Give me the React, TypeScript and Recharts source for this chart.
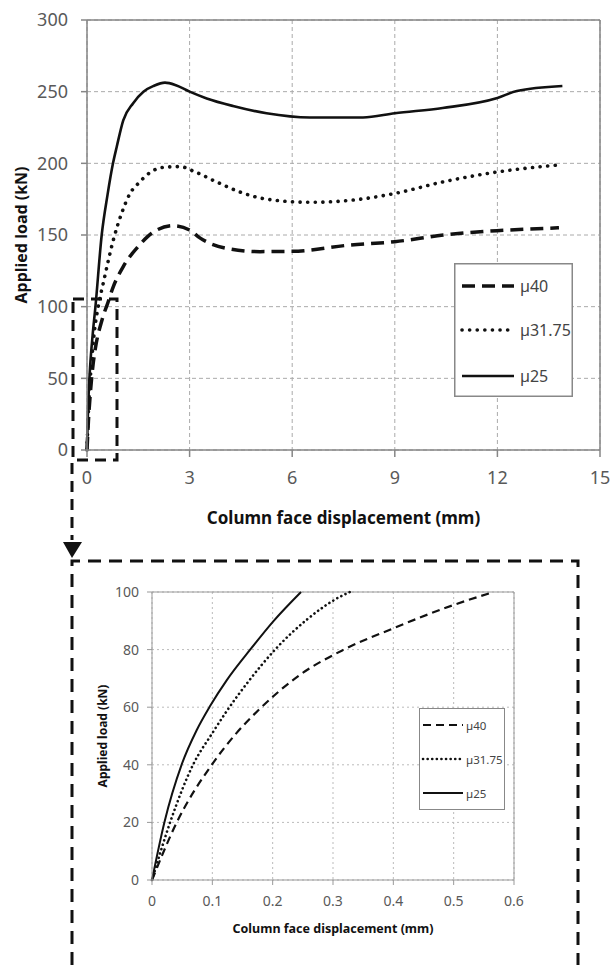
import { CartesianGrid, Legend, Line, LineChart, ReferenceLine, XAxis, YAxis } from 'recharts'

// tick values
const loadTicks = [0, 50, 100, 150, 200, 250, 300]
const dispTicks = [0, 3, 6, 9, 12, 15]
const zoomLoadTicks = [0, 20, 40, 60, 80, 100]
const zoomDispTicks = [0, 0.1, 0.2, 0.3, 0.4, 0.5, 0.6]

// full range
const mu40Disp = [0, 0.041, 0.099, 0.179, 0.245, 0.317, 0.4, 0.5, 0.57, 0.77, 1.06, 1.5, 1.89, 2.52, 3.0, 3.3, 4.08, 5.06, 6.0, 7.69, 9.0, 10.42, 11.98, 13.8]
const mu40Load = [0, 20, 40, 60, 71, 80, 87.4, 95.5, 100, 114, 128, 142, 151.2, 156.5, 153.5, 148, 140.7, 138.4, 138.6, 143, 145.3, 150, 153, 155]

const mu3175Disp = [0, 0.03, 0.068, 0.125, 0.204, 0.256, 0.328, 0.5, 0.77, 1.01, 1.26, 1.5, 1.84, 2.23, 2.72, 3.16, 3.79, 4.47, 5.25, 6.52, 8.0, 9.0, 10.4, 12.0, 13.85]
const mu3175Load = [0, 20, 40, 59, 80, 90, 100, 119, 146.5, 165, 179, 186, 193.5, 197.2, 197.7, 194, 187, 180, 175, 172.8, 175, 179, 187, 194, 199]

const mu25Disp = [0, 0.02, 0.05, 0.096, 0.164, 0.247, 0.43, 0.6, 0.76, 0.87, 1.06, 1.35, 1.65, 1.95, 2.28, 2.6, 3.0, 3.5, 4.27, 5.25, 6.52, 8.07, 9.0, 10.4, 12.0, 12.57, 13.9]
const mu25Load = [0, 20, 40, 60, 80, 100, 150, 178, 200, 211.6, 230, 242, 250, 254, 256.3, 254.5, 250, 245.3, 240, 234.9, 232, 232, 235, 238.6, 245.6, 250.5, 254]

// first 0.6 mm
const mu40ZoomDisp = [0, 0.041, 0.099, 0.14, 0.179, 0.245, 0.317, 0.4, 0.5, 0.566]
const mu40ZoomLoad = [0, 20, 40, 51, 59.5, 71.2, 79.9, 87.4, 95.5, 100]

const mu3175ZoomDisp = [0, 0.03, 0.068, 0.1, 0.125, 0.16, 0.204, 0.256, 0.312, 0.328]
const mu3175ZoomLoad = [0, 20, 40, 51, 59, 69, 80, 90.3, 98.4, 100]

const mu25ZoomDisp = [0, 0.0205, 0.049, 0.074, 0.096, 0.124, 0.164, 0.201, 0.247]
const mu25ZoomLoad = [0, 20, 40, 52, 60.3, 69.4, 80.3, 89.8, 100]

const seriesNames = ['µ40', 'µ31.75', 'µ25']

const zip = (xs: number[], ys: number[]) => xs.map((x, i) => ({ x, y: ys[i] }))

const FONT = '"Noto Sans", sans-serif'
const INK = '#111'

type Style = { dash?: string; width: number; cap: 'round' | 'butt' }

const bigStyles: Style[] = [
  { dash: '13 7', width: 3.5, cap: 'butt' },
  { dash: '0.1 7.5', width: 3.6, cap: 'round' },
  { width: 2.6, cap: 'butt' },
]
const smallStyles: Style[] = [
  { dash: '8 5', width: 2.2, cap: 'butt' },
  { dash: '0.1 4.5', width: 2.6, cap: 'round' },
  { width: 2, cap: 'butt' },
]

type ViewBox = { x: number; y: number; width: number; height: number }
type TitleProps = { viewBox?: ViewBox; text: string; size: number; vertical?: boolean; shift: number }

const AxisTitle = ({ viewBox, text, size, vertical, shift }: TitleProps) => {
  if (!viewBox) return null
  const { x, y, width, height } = viewBox
  const cx = vertical ? x + shift : x + width / 2
  const cy = vertical ? y + height / 2 : y + shift
  return (
    <text
      x={cx}
      y={cy}
      transform={vertical ? `rotate(-90 ${cx} ${cy})` : undefined}
      textAnchor="middle"
      dominantBaseline="central"
      fontFamily={FONT}
      fontWeight={700}
      fontSize={size}
      fill={INK}
    >
      {text}
    </text>
  )
}

type BoxProps = {
  w: number
  h: number
  rows: number[]
  x0: number
  x1: number
  textX: number
  size: number
  styles: Style[]
  border: number
}

const LegendBox = ({ w, h, rows, x0, x1, textX, size, styles, border }: BoxProps) => (
  <svg width={w} height={h} style={{ display: 'block' }}>
    <rect x={border / 2} y={border / 2} width={w - border} height={h - border} fill="#fff" stroke="#888" strokeWidth={border} />
    {seriesNames.map((name, i) => (
      <g key={name}>
        <line
          x1={x0}
          x2={x1}
          y1={rows[i]}
          y2={rows[i]}
          stroke={INK}
          strokeWidth={styles[i].width}
          strokeDasharray={styles[i].dash}
          strokeLinecap={styles[i].cap}
        />
        <text x={textX} y={rows[i]} dominantBaseline="central" fontFamily={FONT} fontSize={size} fill="#444">
          {name}
        </text>
      </g>
    ))}
  </svg>
)

const bigSeries = [zip(mu40Disp, mu40Load), zip(mu3175Disp, mu3175Load), zip(mu25Disp, mu25Load)]
const smallSeries = [
  zip(mu40ZoomDisp, mu40ZoomLoad),
  zip(mu3175ZoomDisp, mu3175ZoomLoad),
  zip(mu25ZoomDisp, mu25ZoomLoad),
]

const MainChart = () => (
  <LineChart width={613} height={540} margin={{ top: 20, right: 13, bottom: 0, left: 0 }}>
    <CartesianGrid stroke="#aaa" strokeDasharray="4 3" />
    <XAxis
      dataKey="x"
      type="number"
      domain={[0, 15]}
      ticks={dispTicks}
      height={90}
      tickSize={7}
      tickMargin={14}
      stroke="#868686"
      strokeWidth={1.5}
      tick={{ fill: '#595959', fontSize: 18, fontFamily: FONT }}
      label={<AxisTitle text="Column face displacement (mm)" size={17} shift={67} />}
    />
    <YAxis
      dataKey="y"
      type="number"
      domain={[0, 300]}
      ticks={loadTicks}
      width={87}
      tickSize={6}
      tickMargin={13}
      stroke="#868686"
      strokeWidth={1.5}
      tick={{ fill: '#595959', fontSize: 18, fontFamily: FONT }}
      label={<AxisTitle text="Applied load (kN)" size={16} vertical shift={21} />}
    />
    <ReferenceLine y={300} stroke="#868686" strokeWidth={1.5} />
    <ReferenceLine x={15} stroke="#868686" strokeWidth={1.5} />
    {bigSeries.map((data, i) => (
      <Line
        key={seriesNames[i]}
        data={data}
        dataKey="y"
        name={seriesNames[i]}
        type="monotone"
        dot={false}
        stroke={INK}
        strokeWidth={bigStyles[i].width}
        strokeDasharray={bigStyles[i].dash}
        strokeLinecap={bigStyles[i].cap}
        isAnimationActive={false}
      />
    ))}
    <Legend
      layout="vertical"
      align="center"
      verticalAlign="middle"
      wrapperStyle={{ left: 454, top: 263, width: 119, height: 134 }}
      content={() => (
        <LegendBox w={119} h={134} rows={[23, 67, 113]} x0={8} x1={60} textX={66} size={16} styles={bigStyles} border={1.5} />
      )}
    />
  </LineChart>
)

const ZoomChart = () => (
  <LineChart width={560} height={400} margin={{ top: 52, right: 46, bottom: 0, left: 0 }}>
    <CartesianGrid stroke="#bbb" strokeDasharray="2 3" />
    <XAxis
      dataKey="x"
      type="number"
      domain={[0, 0.6]}
      ticks={zoomDispTicks}
      height={60}
      tickSize={5}
      tickMargin={11}
      stroke="#999"
      tick={{ fill: '#595959', fontSize: 14, fontFamily: FONT }}
      label={<AxisTitle text="Column face displacement (mm)" size={12.5} shift={48} />}
    />
    <YAxis
      dataKey="y"
      type="number"
      domain={[0, 100]}
      ticks={zoomLoadTicks}
      width={152}
      tickSize={5}
      tickMargin={8}
      stroke="#999"
      tick={{ fill: '#595959', fontSize: 14, fontFamily: FONT }}
      label={<AxisTitle text="Applied load (kN)" size={12} vertical shift={102} />}
    />
    <ReferenceLine y={100} stroke="#999" />
    <ReferenceLine x={0.6} stroke="#999" />
    {smallSeries.map((data, i) => (
      <Line
        key={seriesNames[i]}
        data={data}
        dataKey="y"
        name={seriesNames[i]}
        type="monotone"
        dot={false}
        stroke={INK}
        strokeWidth={smallStyles[i].width}
        strokeDasharray={smallStyles[i].dash}
        strokeLinecap={smallStyles[i].cap}
        isAnimationActive={false}
      />
    ))}
    <Legend
      layout="vertical"
      align="center"
      verticalAlign="middle"
      wrapperStyle={{ left: 419, top: 168, width: 86, height: 102 }}
      content={() => (
        <LegendBox w={86} h={102} rows={[17, 51, 85]} x0={4} x1={44} textX={47} size={11.5} styles={smallStyles} border={1} />
      )}
    />
  </LineChart>
)

// dashed call-out linking the small window to the inset
const Callout = () => (
  <svg width={613} height={965} style={{ position: 'absolute', left: 0, top: 0, pointerEvents: 'none' }}>
    <g fill="none" stroke={INK} strokeWidth={3}>
      <rect x={73} y={299} width={44} height={161} strokeDasharray="11 7" />
      <path d="M72 463 V540" strokeDasharray="11 7" />
      <path d="M72 965 V561 H578 V965" strokeDasharray="13 8" />
    </g>
    <polygon points="63,542 82,542 72,558" fill={INK} />
  </svg>
)

export default function App() {
  return (
    <div style={{ position: 'absolute', left: 0, top: 0, width: 613, height: 965, background: '#fff', fontFamily: FONT }}>
      <div style={{ position: 'absolute', left: 0, top: 0 }}>
        <MainChart />
      </div>
      <div style={{ position: 'absolute', left: 0, top: 540 }}>
        <ZoomChart />
      </div>
      <Callout />
    </div>
  )
}
